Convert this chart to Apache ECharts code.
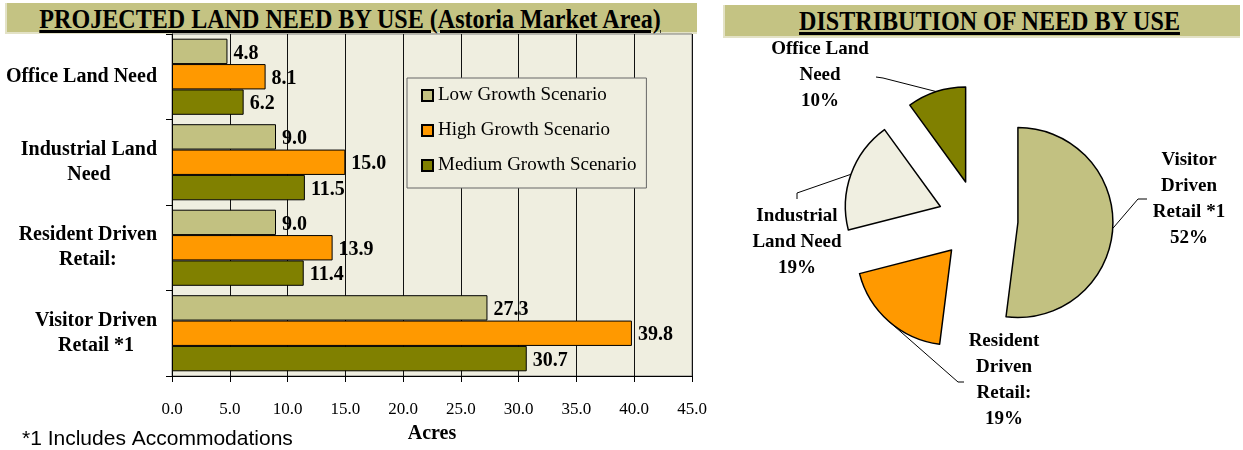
<!DOCTYPE html>
<html>
<head>
<meta charset="utf-8">
<script src="https://cdn.jsdelivr.net/npm/echarts@6/dist/echarts.min.js"></script>
<style>
  html, body { margin: 0; padding: 0; background: #fff; }
  #wrap { position: relative; width: 1243px; height: 450px; overflow: hidden; }
  #chart { position: absolute; left: 0; top: 0; width: 1243px; height: 450px; }
  .banner {
    position: absolute;
    background: #c4c383;
    border-left: 2px solid #e3e2c6;
    border-bottom: 2px solid #e3e2c6;
  }
  .banner span {
    position: absolute;
    left: -150px; right: -150px; top: 1px;
    text-align: center;
    font: bold 28px 'Liberation Serif', serif;
    line-height: 30px;
    text-decoration: underline;
    text-decoration-thickness: 3px;
    text-underline-offset: 2px;
    white-space: nowrap;
    color: #000;
  }
</style>
</head>
<body>
<div id="wrap">
  <div class="banner" style="left:5px; top:3px; width:690px; height:29px;"><span style="transform: translateX(-2px) scaleX(0.86);">PROJECTED LAND NEED BY USE (Astoria Market Area)</span></div>
  <div class="banner" style="left:723px; top:5px; width:515px; height:31px;"><span style="transform: translateX(7px) scaleX(0.86);">DISTRIBUTION OF NEED BY USE</span></div>
  <div id="chart"></div>
</div>
<script>
// bar chart data (acres)
const categories = ['Office Land Need', 'Industrial Land\nNeed', 'Resident Driven\nRetail:', 'Visitor Driven\nRetail *1']
const lowGrowth = [4.8, 9.0, 9.0, 27.3]
const highGrowth = [8.1, 15.0, 13.9, 39.8]
const mediumGrowth = [6.2, 11.5, 11.4, 30.7]
const seriesNames = ['Low Growth Scenario', 'High Growth Scenario', 'Medium Growth Scenario']

// pie chart data (share of need, %)
const pieNames = ['Visitor\nDriven\nRetail *1', 'Resident\nDriven\nRetail:', 'Industrial\nLand Need', 'Office Land\nNeed']
const pieShares = [52, 19, 19, 10]

const serif = "'Liberation Serif', 'Times New Roman', serif"
const khaki = '#c2c181'
const orange = '#ff9900'
const olive = '#808000'
const cream = '#efeee0'

const pieCenter = [978, 220]
const pieRadius = 95
const pieExplode = 40

// where each pie label sits and where its leader line bends
const pieLabelPos = [
  { x: 1189, y: 199, bend: [[1138, 199], [1147, 199]] },
  { x: 1004, y: 380, bend: [[958, 382], [964, 382]] },
  { x: 797, y: 242, bend: [[797, 193], [797, 199]] },
  { x: 820, y: 75, bend: [[883, 78], [876, 77]] }
]
const pieColors = [khaki, orange, '#f0efe1', olive]

const barLabel = {
  show: true,
  position: 'right',
  distance: 6,
  offset: [0, 2],
  color: '#000',
  fontFamily: serif,
  fontWeight: 'bold',
  fontSize: 20,
  formatter: (p) => p.value.toFixed(1)
}

function barSeries(name, data, color) {
  return {
    name: name,
    type: 'bar',
    data: data,
    barGap: '0%',
    barCategoryGap: '11%',
    itemStyle: { color: color, borderColor: '#000', borderWidth: 1 },
    label: barLabel,
    emphasis: { disabled: true }
  }
}

const chart = echarts.init(document.getElementById('chart'))

const option = {
  animation: false,
  grid: {
    left: 172,
    top: 34,
    width: 520,
    height: 342,
    show: true,
    backgroundColor: cream,
    borderColor: '#808080',
    borderWidth: 1
  },
  legend: {
    data: seriesNames,
    orient: 'vertical',
    left: 407,
    top: 78,
    padding: [8, 10, 13, 14],
    itemGap: 16,
    itemWidth: 11,
    itemHeight: 11,
    icon: 'rect',
    backgroundColor: cream,
    borderColor: '#666',
    borderWidth: 1,
    textStyle: { color: '#000', fontFamily: serif, fontSize: 19, lineHeight: 18 }
  },
  xAxis: {
    type: 'value',
    min: 0,
    max: 45,
    interval: 5,
    name: 'Acres',
    nameLocation: 'middle',
    nameGap: 48,
    nameTextStyle: { color: '#000', fontFamily: serif, fontWeight: 'bold', fontSize: 20 },
    axisLine: { show: true, lineStyle: { color: '#000', width: 1 } },
    axisTick: { show: true, length: 6, lineStyle: { color: '#000' } },
    splitLine: { show: true, lineStyle: { color: '#111', width: 1 } },
    axisLabel: {
      color: '#000',
      fontFamily: serif,
      fontSize: 17,
      margin: 25,
      formatter: (v) => v.toFixed(1)
    }
  },
  yAxis: {
    type: 'category',
    data: categories,
    inverse: true,
    axisLine: { show: true, lineStyle: { color: '#000', width: 1 } },
    axisTick: { show: true, length: 6, lineStyle: { color: '#000' } },
    axisLabel: {
      margin: 15,
      formatter: (v) => v.split('\n').map((l) => '{c|' + l + '}').join('\n'),
      rich: {
        c: { align: 'center', color: '#000', fontFamily: serif, fontWeight: 'bold', fontSize: 20, lineHeight: 25 }
      }
    }
  },
  series: [
    barSeries(seriesNames[0], lowGrowth, khaki),
    barSeries(seriesNames[1], highGrowth, orange),
    barSeries(seriesNames[2], mediumGrowth, olive),
    // exploded slices
    {
      type: 'pie',
      center: pieCenter,
      radius: pieRadius,
      startAngle: 90,
      clockwise: true,
      selectedMode: 'multiple',
      selectedOffset: pieExplode,
      data: pieShares.map((v, i) => ({
        name: pieNames[i],
        value: v,
        selected: true,
        itemStyle: { color: pieColors[i] }
      })),
      itemStyle: { borderColor: '#000', borderWidth: 1.5 },
      select: { itemStyle: { borderColor: '#000', borderWidth: 1.5 } },
      emphasis: { disabled: true },
      label: { show: false },
      labelLine: { show: false }
    },
    // invisible ring reaching the exploded edge, used only to carry the labels
    {
      type: 'pie',
      silent: true,
      center: pieCenter,
      radius: pieRadius + pieExplode,
      startAngle: 90,
      clockwise: true,
      avoidLabelOverlap: false,
      data: pieShares.map((v, i) => ({ name: pieNames[i], value: v })),
      itemStyle: { color: 'rgba(0,0,0,0)', borderWidth: 0 },
      emphasis: { disabled: true },
      label: {
        show: true,
        position: 'outside',
        color: '#000',
        fontFamily: serif,
        fontWeight: 'bold',
        fontSize: 19,
        lineHeight: 26,
        align: 'center',
        formatter: (p) => p.name + '\n' + p.value + '%'
      },
      labelLine: { show: true, length: 10, length2: 10, lineStyle: { color: '#000', width: 1 } },
      labelLayout: (params) => {
        const pos = pieLabelPos[params.dataIndex]
        const start = params.labelLinePoints ? params.labelLinePoints[0] : null
        const out = { x: pos.x, y: pos.y, align: 'center', verticalAlign: 'middle' }
        if (start) out.labelLinePoints = [start].concat(pos.bend)
        return out
      }
    }
  ],
  graphic: [
    {
      type: 'text',
      left: 22,
      top: 429,
      style: {
        text: '*1 Includes Accommodations',
        fill: '#000',
        font: "21px 'Liberation Sans', Arial, sans-serif"
      }
    }
  ]
}

chart.setOption(option)

window.addEventListener('resize', () => {
  chart.resize()
})
</script>
</body>
</html>
